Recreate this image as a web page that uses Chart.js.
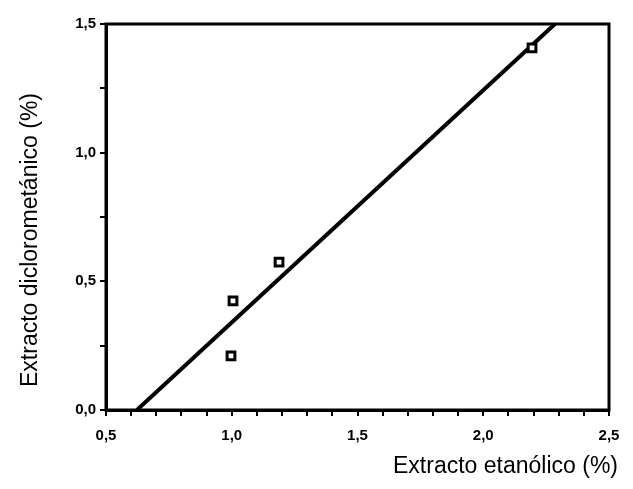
<!DOCTYPE html>
<html>
<head>
<meta charset="utf-8">
<script src="https://cdn.jsdelivr.net/npm/chart.js@4/dist/chart.umd.min.js"></script>
<style>
html,body{margin:0;padding:0;background:#fff;}
#wrap{width:633px;height:489px;}
</style>
</head>
<body>
<div id="wrap"><canvas id="c" width="633" height="489"></canvas></div>
<script>
// Data
const pointsX = [0.997, 1.005, 1.188, 2.194];
const pointsY = [0.21, 0.424, 0.575, 1.407];
const fitX = [0.623, 2.285];
const fitY = [0.0, 1.5];
const xTickLabels = ['0,5', '1,0', '1,5', '2,0', '2,5'];
const yTickLabels = ['0,0', '0,5', '1,0', '1,5'];
const xTitle = 'Extracto etanólico (%)';
const yTitle = 'Extracto diclorometánico (%)';

const scatterData = pointsX.map((x, i) => ({x: x, y: pointsY[i]}));
const fitData = fitX.map((x, i) => ({x: x, y: fitY[i]}));

function labelFor(v, labels, step) {
  const k = Math.round(v / step);
  if (Math.abs(v - k * step) < 1e-6) {
    const txt = v.toFixed(1).replace('.', ',');
    return labels.includes(txt) ? txt : '';
  }
  return '';
}

const frame = {
  id: 'frame',
  afterDatasetsDraw(chart) {
    const a = chart.chartArea, ctx = chart.ctx;
    ctx.save();
    ctx.strokeStyle = '#000';
    ctx.lineWidth = 3;
    ctx.strokeRect(a.left, a.top, a.right - a.left, a.bottom - a.top);
    ctx.restore();
  },
  afterDraw(chart) {
    const a = chart.chartArea, ctx = chart.ctx;
    ctx.save();
    ctx.fillStyle = '#000';
    ctx.font = '23px "Liberation Sans", Arial, sans-serif';
    ctx.textBaseline = 'middle';
    ctx.textAlign = 'right';
    ctx.fillText(xTitle, a.right + 9, a.bottom + 57);
    ctx.translate(a.left - 75, (a.top + a.bottom) / 2 + 23);
    ctx.rotate(-Math.PI / 2);
    ctx.textAlign = 'center';
    ctx.fillText(yTitle, 0, 0);
    ctx.restore();
  }
};

new Chart(document.getElementById('c'), {
  type: 'scatter',
  data: {
    datasets: [
      {
        type: 'scatter',
        data: scatterData,
        pointStyle: 'rect',
        pointRadius: 5.5,
        pointHoverRadius: 5.5,
        borderColor: '#000',
        backgroundColor: '#fff',
        borderWidth: 3,
        order: 0
      },
      {
        type: 'line',
        data: fitData,
        borderColor: '#000',
        borderWidth: 4,
        pointRadius: 0,
        fill: false,
        order: 1
      }
    ]
  },
  plugins: [frame],
  options: {
    responsive: false,
    animation: false,
    devicePixelRatio: 1,
    layout: {padding: {left: 0, right: 24, top: 24, bottom: 0}},
    plugins: {legend: {display: false}, tooltip: {enabled: false}},
    scales: {
      x: {
        type: 'linear',
        min: 0.5, max: 2.5,
        afterFit(s) { s.height = 79; },
        border: {color: '#000', width: 3},
        grid: {display: true, drawOnChartArea: false, drawTicks: true, tickLength: 6, color: '#000', lineWidth: 2},
        ticks: {
          stepSize: 0.1, autoSkip: false, maxRotation: 0, padding: 11,
          color: '#000',
          font: {family: '"Liberation Sans", Arial, sans-serif', size: 15, weight: 'bold'},
          callback: (v) => labelFor(v, xTickLabels, 0.5)
        }
      },
      y: {
        type: 'linear',
        min: 0, max: 1.5,
        afterFit(s) { s.width = 106; },
        border: {color: '#000', width: 3},
        grid: {display: true, drawOnChartArea: false, drawTicks: true, tickLength: 6, color: '#000', lineWidth: 2},
        ticks: {
          stepSize: 0.25, autoSkip: false, padding: 4,
          color: '#000',
          font: {family: '"Liberation Sans", Arial, sans-serif', size: 15, weight: 'bold'},
          callback: (v) => labelFor(v, yTickLabels, 0.5)
        }
      }
    }
  }
});
</script>
</body>
</html>
